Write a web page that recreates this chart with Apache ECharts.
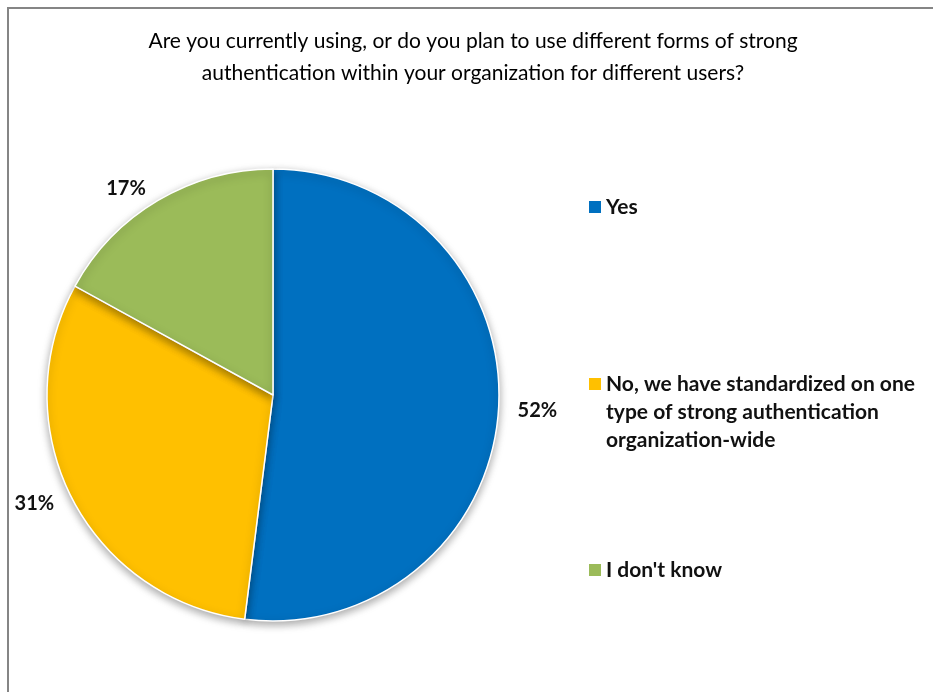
<!DOCTYPE html>
<html>
<head>
<meta charset="utf-8">
<script src="https://cdn.jsdelivr.net/npm/echarts@6/dist/echarts.min.js"></script>
<style>
  html, body { margin: 0; padding: 0; background: #fff; }
  #chart { width: 933px; height: 692px; }
</style>
</head>
<body>
<div id="chart"></div>
<script>
var titleText = 'Are you currently using, or do you plan to use different forms of strong\nauthentication within your organization for different users?';
var answers = ['Yes', 'No, we have standardized on one type of strong authentication organization-wide', "I don't know"];
var percents = [52, 31, 17];
var colors = ['#0070C0', '#FFC000', '#9BBB59'];

var fontName = 'Lato';

var pieData = answers.map(function(a, i) {
    return { name: a, value: percents[i] };
});

function legendFor(name, top, lineHeight, formatter) {
    var lg = {
        data: [name],
        left: 584,
        top: top,
        orient: 'vertical',
        icon: 'rect',
        itemWidth: 12,
        itemHeight: 12,
        itemStyle: { borderWidth: 0, shadowBlur: 0, shadowOffsetY: 0 },
        selectedMode: false,
        textStyle: {
            fontFamily: fontName,
            fontSize: 21,
            fontWeight: 'bold',
            color: '#111',
            lineHeight: lineHeight
        }
    };
    if (formatter) lg.formatter = formatter;
    return lg;
}

var myChart = echarts.init(document.getElementById('chart'));
myChart.setOption({
    animation: false,
    color: colors,
    title: {
        text: titleText,
        left: 468,
        top: 20,
        textAlign: 'center',
        textStyle: {
            fontFamily: fontName,
            fontSize: 21,
            fontWeight: 'normal',
            color: '#000',
            lineHeight: 32
        }
    },
    legend: [
        legendFor(answers[0], 191, 22),
        // two blank lines on top so the first text line sits next to the icon
        legendFor(answers[1], 309, 28, function() {
            return '\n\nNo, we have standardized on one\ntype of strong authentication\norganization-wide';
        }),
        legendFor(answers[2], 554, 22)
    ],
    graphic: [{
        type: 'polyline',
        shape: { points: [[8, 700], [8, 8], [940, 8]] },
        style: { stroke: '#858585', lineWidth: 2, fill: null },
        silent: true
    }],
    series: [{
        type: 'pie',
        center: [273, 395],
        radius: 226,
        startAngle: 90,
        clockwise: true,
        data: pieData,
        itemStyle: {
            borderColor: '#fff',
            borderWidth: 1.5,
            shadowColor: 'rgba(0,0,0,0.35)',
            shadowBlur: 8,
            shadowOffsetY: 3
        },
        label: {
            show: true,
            position: 'outside',
            formatter: '{c}%',
            fontFamily: fontName,
            fontSize: 20,
            fontWeight: 'bold',
            color: '#111'
        },
        labelLine: { show: false, length: 14, length2: 0 },
        emphasis: { disabled: true }
    }]
});
</script>
</body>
</html>
